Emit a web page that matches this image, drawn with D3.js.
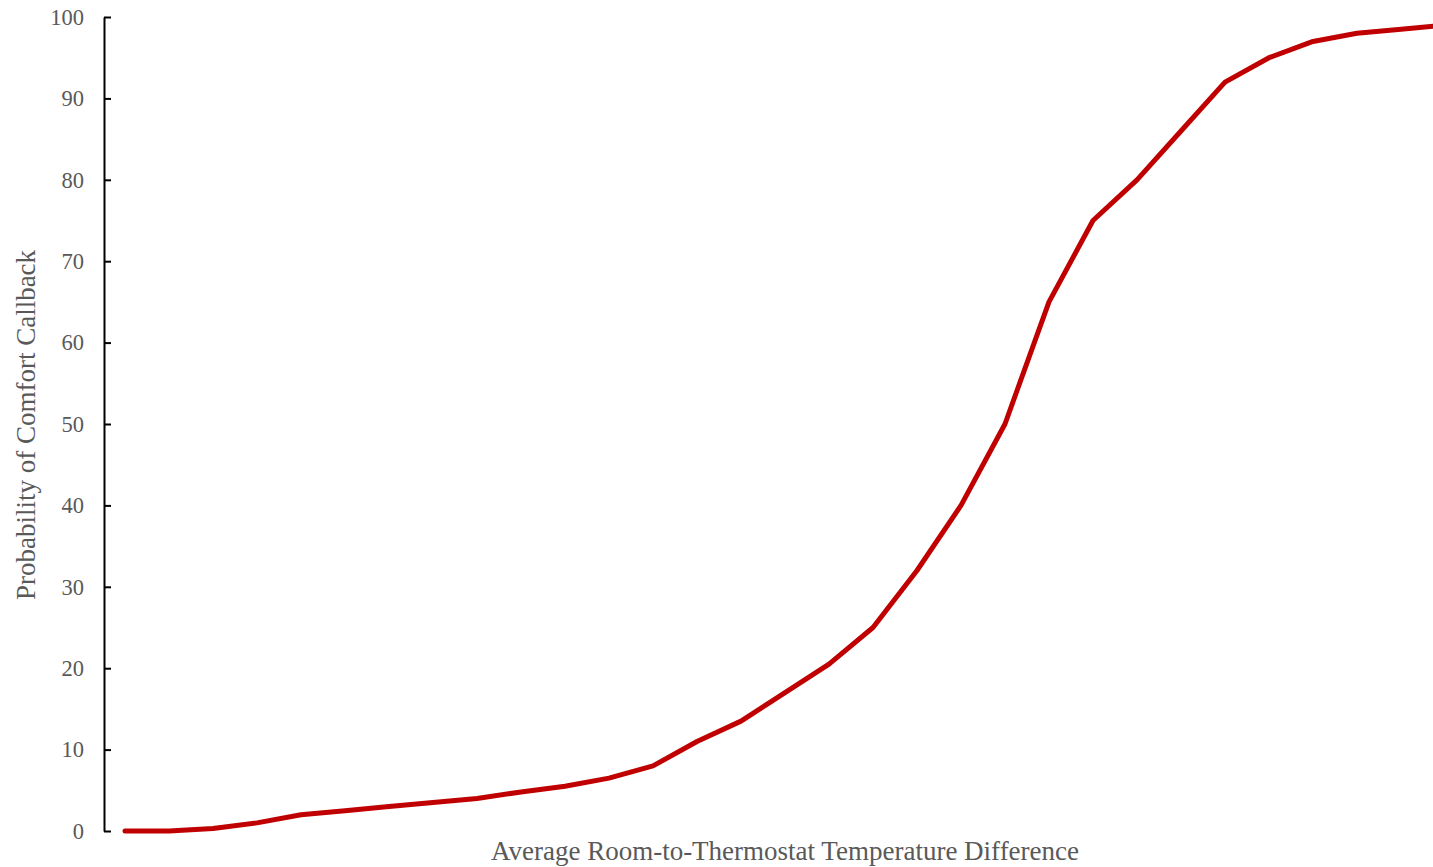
<!DOCTYPE html>
<html>
<head>
<meta charset="utf-8">
<script src="https://cdn.jsdelivr.net/npm/d3@7"></script>
<style>
  html, body { margin: 0; padding: 0; background: #fff; overflow: hidden; }
  svg { display: block; }
</style>
</head>
<body>
<svg id="chart" width="1433" height="867"></svg>
<script>
// Temperature-difference steps (index along the x axis)
const steps = d3.range(0, 31);
// Probability of a comfort callback (%) at each step
const probability = [0, 0, 0.3, 1, 2, 2.5, 3, 3.5, 4, 4.8, 5.5, 6.5, 8, 11, 13.5, 17, 20.5, 25, 32, 40, 50, 65, 75, 80, 86, 92, 95, 97, 98, 98.5, 99];
const yTicks = [0, 10, 20, 30, 40, 50, 60, 70, 80, 90, 100];

const xTitle = "Average Room-to-Thermostat Temperature Difference";
const yTitle = "Probability of Comfort Callback";

const svg = d3.select("#chart");
const font = "'Liberation Serif', 'Times New Roman', serif";
const gray = "#595959";

const x = d3.scaleLinear().domain([0, 30]).range([125, 1445]);
const y = d3.scaleLinear().domain([0, 100]).range([831, 17]);

// Vertical axis with ticks pointing into the plot
const yAxis = svg.append("g")
  .attr("transform", "translate(104,0)")
  .call(d3.axisRight(y).tickValues(yTicks).tickSize(7).tickSizeOuter(0).tickFormat(""));
yAxis.select(".domain").attr("stroke", "#000").attr("stroke-width", 2);
yAxis.selectAll(".tick line").attr("stroke", "#000").attr("stroke-width", 2);

// Tick labels
svg.append("g").selectAll("text")
  .data(yTicks)
  .join("text")
  .attr("x", 84)
  .attr("y", d => y(d))
  .attr("dy", "0.35em")
  .attr("text-anchor", "end")
  .attr("font-family", font)
  .attr("font-size", 22.5)
  .attr("fill", gray)
  .text(d => d);

// Probability curve
const line = d3.line()
  .x((d, i) => x(steps[i]))
  .y(d => y(d));

svg.append("path")
  .datum(probability)
  .attr("d", line)
  .attr("fill", "none")
  .attr("stroke", "#C00000")
  .attr("stroke-width", 5)
  .attr("stroke-linejoin", "round")
  .attr("stroke-linecap", "round");

// Axis titles
svg.append("text")
  .attr("x", 785)
  .attr("y", 860)
  .attr("text-anchor", "middle")
  .attr("font-family", font)
  .attr("font-size", 27)
  .attr("fill", gray)
  .text(xTitle);

svg.append("text")
  .attr("transform", "translate(35,425) rotate(-90)")
  .attr("text-anchor", "middle")
  .attr("font-family", font)
  .attr("font-size", 27)
  .attr("fill", gray)
  .text(yTitle);
</script>
</body>
</html>
